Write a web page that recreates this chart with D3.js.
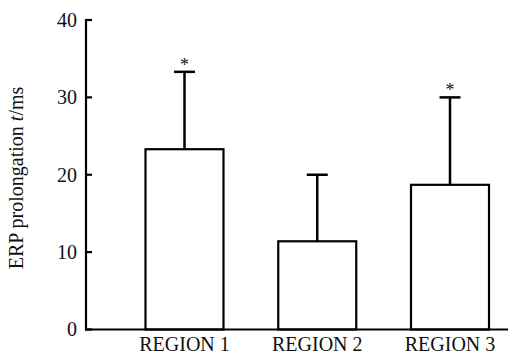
<!DOCTYPE html>
<html>
<head>
<meta charset="utf-8">
<script src="https://d3js.org/d3.v7.min.js"></script>
<style>
  body { margin: 0; background: #fff; }
  text { font-family: "Liberation Serif", "Times New Roman", serif; fill: #111; }
</style>
</head>
<body>
<svg id="chart" width="508" height="359"></svg>
<script>
// data
var regions = ["REGION 1", "REGION 2", "REGION 3"];
var means = [23.3, 11.4, 18.7];
var errors = [10.0, 8.6, 11.3];
var signif = [true, false, true];
var yTicks = [0, 10, 20, 30, 40];

var svg = d3.select("#chart");

var y = d3.scaleLinear().domain([0, 40]).range([329.5, 20]);
var x = d3.scalePoint().domain(regions).range([184.5, 450]);
var barW = 78;
var axisX = 86;

// bars
svg.selectAll("rect.bar")
  .data(regions)
  .enter()
  .append("rect")
  .attr("class", "bar")
  .attr("x", d => x(d) - barW / 2)
  .attr("y", (d, i) => y(means[i]))
  .attr("width", barW)
  .attr("height", (d, i) => y(0) - y(means[i]))
  .attr("fill", "#fff")
  .attr("stroke", "#000")
  .attr("stroke-width", 2.2);

// error bars (upper only)
svg.selectAll("line.err")
  .data(regions)
  .enter()
  .append("line")
  .attr("x1", d => x(d))
  .attr("x2", d => x(d))
  .attr("y1", (d, i) => y(means[i]))
  .attr("y2", (d, i) => y(means[i] + errors[i]))
  .attr("stroke", "#000")
  .attr("stroke-width", 2.5);

svg.selectAll("line.cap")
  .data(regions)
  .enter()
  .append("line")
  .attr("x1", d => x(d) - 10.5)
  .attr("x2", d => x(d) + 10.5)
  .attr("y1", (d, i) => y(means[i] + errors[i]))
  .attr("y2", (d, i) => y(means[i] + errors[i]))
  .attr("stroke", "#000")
  .attr("stroke-width", 2.5);

// significance stars
svg.selectAll("text.star")
  .data(regions.filter((d, i) => signif[i]))
  .enter()
  .append("text")
  .attr("x", d => x(d))
  .attr("y", d => y(means[regions.indexOf(d)] + errors[regions.indexOf(d)]) - 1)
  .attr("text-anchor", "middle")
  .style("font-size", "18px")
  .text("*");

// y axis
svg.append("line")
  .attr("x1", axisX).attr("x2", axisX)
  .attr("y1", y(40) - 1).attr("y2", y(0) + 1)
  .attr("stroke", "#000").attr("stroke-width", 2.2);

svg.selectAll("line.ytick")
  .data(yTicks)
  .enter()
  .append("line")
  .attr("x1", axisX).attr("x2", axisX + 6)
  .attr("y1", d => y(d)).attr("y2", d => y(d))
  .attr("stroke", "#000").attr("stroke-width", 2.2);

svg.selectAll("text.ylab")
  .data(yTicks)
  .enter()
  .append("text")
  .attr("x", 77)
  .attr("y", d => y(d))
  .attr("dy", "0.34em")
  .attr("text-anchor", "end")
  .style("font-size", "20px")
  .text(d => d);

// x axis
svg.append("line")
  .attr("x1", axisX - 1).attr("x2", 508)
  .attr("y1", y(0)).attr("y2", y(0))
  .attr("stroke", "#000").attr("stroke-width", 2.2);

svg.selectAll("text.xlab")
  .data(regions)
  .enter()
  .append("text")
  .attr("x", d => x(d))
  .attr("y", 351)
  .attr("text-anchor", "middle")
  .style("font-size", "20px")
  .text(d => d);

// y title
var title = svg.append("text")
  .attr("transform", "translate(23,178) rotate(-90)")
  .attr("text-anchor", "middle")
  .style("font-size", "20px");
title.append("tspan").text("ERP prolongation ");
title.append("tspan").style("font-style", "italic").text("t");
title.append("tspan").text("/ms");
</script>
</body>
</html>
